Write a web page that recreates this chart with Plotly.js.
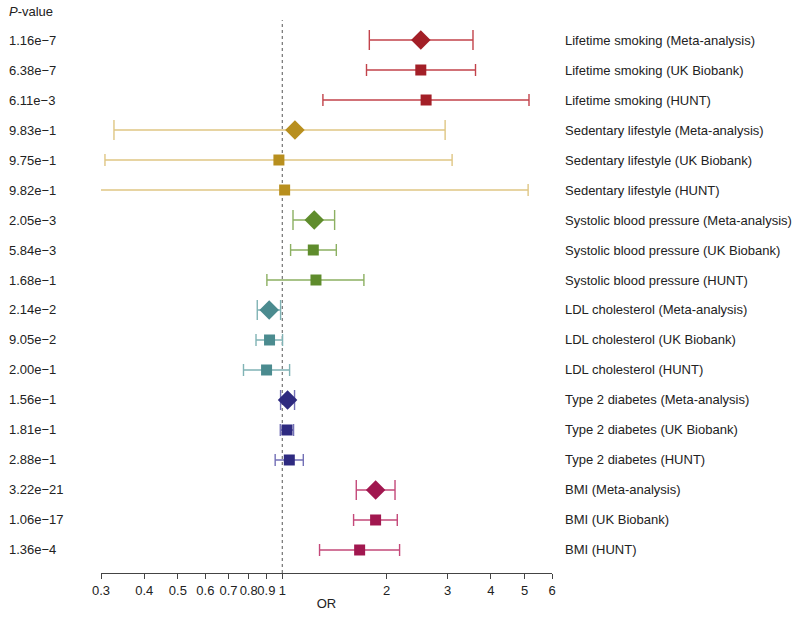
<!DOCTYPE html>
<html>
<head>
<meta charset="utf-8">
<script src="https://cdn.plot.ly/plotly-3.0.1.min.js"></script>
<style>
  html, body { margin: 0; padding: 0; background: #fff; }
  #chart { width: 800px; height: 623px; }
</style>
</head>
<body>
<div id="chart"></div>
<script>
const labels = [
  'Lifetime smoking (Meta-analysis)', 'Lifetime smoking (UK Biobank)', 'Lifetime smoking (HUNT)',
  'Sedentary lifestyle (Meta-analysis)', 'Sedentary lifestyle (UK Biobank)', 'Sedentary lifestyle (HUNT)',
  'Systolic blood pressure (Meta-analysis)', 'Systolic blood pressure (UK Biobank)', 'Systolic blood pressure (HUNT)',
  'LDL cholesterol (Meta-analysis)', 'LDL cholesterol (UK Biobank)', 'LDL cholesterol (HUNT)',
  'Type 2 diabetes (Meta-analysis)', 'Type 2 diabetes (UK Biobank)', 'Type 2 diabetes (HUNT)',
  'BMI (Meta-analysis)', 'BMI (UK Biobank)', 'BMI (HUNT)'
];
const pvals = [
  '1.16e\u22127', '6.38e\u22127', '6.11e\u22123',
  '9.83e\u22121', '9.75e\u22121', '9.82e\u22121',
  '2.05e\u22123', '5.84e\u22123', '1.68e\u22121',
  '2.14e\u22122', '9.05e\u22122', '2.00e\u22121',
  '1.56e\u22121', '1.81e\u22121', '2.88e\u22121',
  '3.22e\u221221', '1.06e\u221217', '1.36e\u22124'
];
const orVals = [2.51, 2.51, 2.60, 1.088, 0.978, 1.016, 1.237, 1.229, 1.251, 0.917, 0.919, 0.901, 1.036, 1.032, 1.048, 1.859, 1.859, 1.672];
const ciLow  = [1.783, 1.75, 1.31, 0.327, 0.308, 0.298, 1.074, 1.057, 0.903, 0.847, 0.840, 0.773, 0.989, 0.987, 0.954, 1.635, 1.606, 1.281];
const ciHigh = [3.55, 3.61, 5.15, 2.95, 3.09, 5.12, 1.416, 1.432, 1.72, 0.989, 1.002, 1.05, 1.085, 1.078, 1.15, 2.115, 2.147, 2.18];

const markerColors = ['#a31f27', '#b88f1e', '#5f8c2c', '#4b8b8f', '#2e2a80', '#a1174f'];
const barColors    = ['#c2434b', '#dfc684', '#8cb062', '#80b3b5', '#7370b6', '#c4497a'];

const tickVals = [0.3, 0.4, 0.5, 0.6, 0.7, 0.8, 0.9, 1, 2, 3, 4, 5, 6];
const tickText = ['0.3', '0.4', '0.5', '0.6', '0.7', '0.8', '0.9', '1', '2', '3', '4', '5', '6'];

const FONT = 'Liberation Sans, Arial, Helvetica, sans-serif';
const TXT = { family: FONT, size: 13, color: '#222' };

const traces = orVals.map((v, i) => {
  const group = Math.floor(i / 3);
  const isMeta = i % 3 === 0;
  return {
    type: 'scatter',
    mode: 'markers',
    x: [v],
    y: [i],
    marker: {
      symbol: isMeta ? 'diamond' : 'square',
      size: isMeta ? 15 : 11,
      color: markerColors[group],
      line: { width: 0 },
    },
    error_x: {
      type: 'data',
      symmetric: false,
      array: [ciHigh[i] - v],
      arrayminus: [v - ciLow[i]],
      color: barColors[group],
      thickness: 1.4,
      width: isMeta ? 10 : 6,
    },
    hoverinfo: 'skip',
    showlegend: false,
  };
});

const annotations = [];
annotations.push({
  xref: 'paper', yref: 'y', x: -0.2084, y: -0.95, xanchor: 'left', yanchor: 'middle',
  text: '<i>P</i>-value', showarrow: false, font: TXT,
});
labels.forEach((lab, i) => {
  annotations.push({
    xref: 'paper', yref: 'y', x: -0.2084, y: i, xanchor: 'left', yanchor: 'middle',
    text: pvals[i], showarrow: false, font: TXT,
  });
  annotations.push({
    xref: 'paper', yref: 'y', x: 1.0244, y: i, xanchor: 'left', yanchor: 'middle',
    text: lab, showarrow: false, font: TXT,
  });
});

const layout = {
  width: 800,
  height: 623,
  margin: { l: 101, r: 248, t: 10, b: 50 },
  paper_bgcolor: '#fff',
  plot_bgcolor: '#fff',
  font: TXT,
  xaxis: {
    type: 'log',
    range: [Math.log10(0.3), Math.log10(6)],
    tickvals: tickVals,
    ticktext: tickText,
    tickangle: 0,
    ticks: 'outside',
    ticklen: 5,
    tickcolor: '#444',
    showline: true,
    linecolor: '#444',
    linewidth: 1,
    showgrid: false,
    zeroline: false,
    tickfont: TXT,
    title: { text: 'OR', font: TXT, standoff: 2 },
  },
  yaxis: {
    range: [17.767, -1],
    showgrid: false,
    zeroline: false,
    showline: false,
    showticklabels: false,
    ticks: '',
  },
  shapes: [{
    type: 'line', xref: 'x', yref: 'paper', x0: 1, x1: 1, y0: 0, y1: 0.982,
    line: { color: '#555', width: 1, dash: 'dot' },
    layer: 'below',
  }],
  annotations: annotations,
};

Plotly.newPlot('chart', traces, layout, { displayModeBar: false, staticPlot: true });
</script>
</body>
</html>
